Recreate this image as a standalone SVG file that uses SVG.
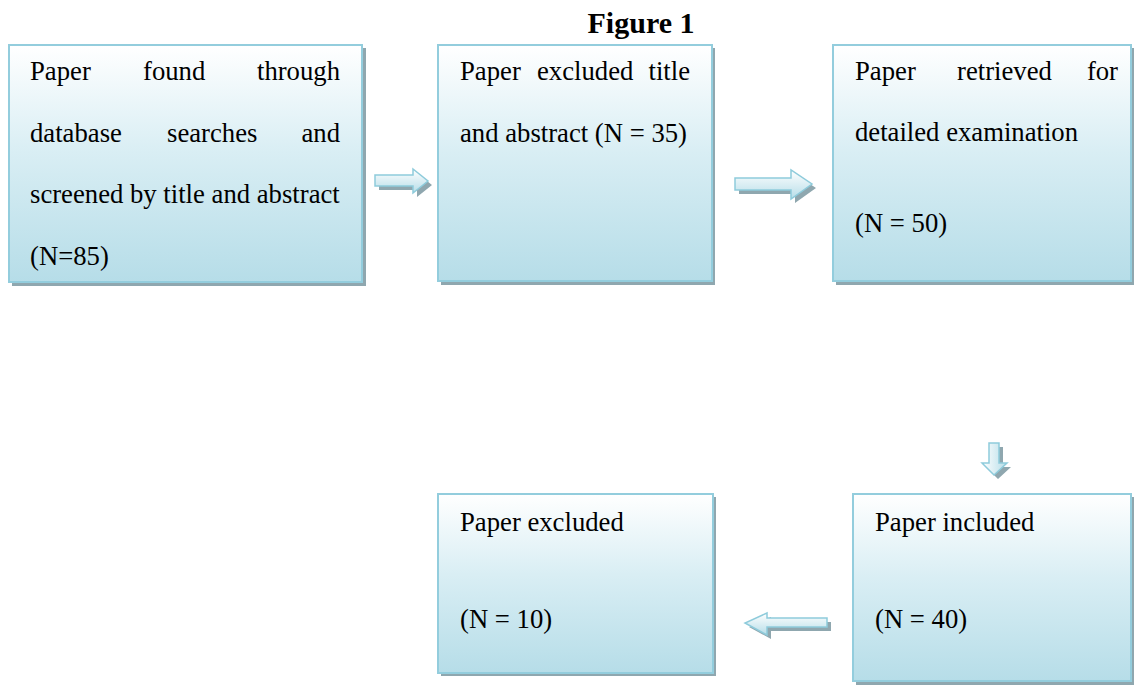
<svg xmlns="http://www.w3.org/2000/svg" width="1134" height="685" viewBox="0 0 1134 685">
<defs>
<linearGradient id="boxg" x1="0" y1="0" x2="0" y2="1">
<stop offset="0" stop-color="#ffffff"/>
<stop offset="0.45" stop-color="#d9eef4"/>
<stop offset="1" stop-color="#b6dde8"/>
</linearGradient>
<linearGradient id="arrh" x1="0" y1="0" x2="0" y2="1">
<stop offset="0" stop-color="#ffffff"/>
<stop offset="1" stop-color="#b6dde8"/>
</linearGradient>
<linearGradient id="arrv" x1="0" y1="0" x2="1" y2="0">
<stop offset="0" stop-color="#ffffff"/>
<stop offset="1" stop-color="#b6dde8"/>
</linearGradient>
</defs>
<style>
.sh{fill:#8fa7af}
.bx{fill:url(#boxg);stroke:#93cddd;stroke-width:2}
.t{font-family:"Liberation Serif","Times New Roman",serif;font-size:26.7px;fill:#000}
.e{text-anchor:end}
.ttl{font-family:"Liberation Serif","Times New Roman",serif;font-size:30px;font-weight:bold;text-anchor:middle}
.ah{fill:url(#arrh);stroke:#8ecbdb;stroke-width:1.5}
.av{fill:url(#arrv);stroke:#8ecbdb;stroke-width:1.5}
.as{fill:#8fa7af}
</style>
<rect width="1134" height="685" fill="#ffffff"/>
<text class="ttl" x="641" y="33">Figure 1</text>

<g id="node1">
<rect class="sh" x="12" y="48" width="354" height="238"/>
<rect class="bx" x="9" y="45" width="353" height="237"/>
<text class="t" x="30" y="80">Paper</text>
<text class="t" x="143" y="80">found</text>
<text class="t e" x="340" y="80">through</text>
<text class="t" x="30" y="142">database</text>
<text class="t" x="167" y="142">searches</text>
<text class="t e" x="340" y="142">and</text>
<text class="t" x="30" y="203">screened by title and abstract</text>
<text class="t" x="30" y="265">(N=85)</text>
</g>

<g id="node2">
<rect class="sh" x="441" y="48" width="274" height="237"/>
<rect class="bx" x="438" y="45" width="274" height="236"/>
<text class="t" x="460" y="80">Paper</text>
<text class="t" x="537" y="80">excluded</text>
<text class="t e" x="690" y="80">title</text>
<text class="t" x="460" y="142">and abstract (N = 35)</text>
</g>

<g id="node3">
<rect class="sh" x="836" y="48" width="298" height="237"/>
<rect class="bx" x="833" y="45" width="298" height="236"/>
<text class="t" x="855" y="80">Paper</text>
<text class="t" x="957" y="80">retrieved</text>
<text class="t e" x="1118" y="80">for</text>
<text class="t" x="855" y="141">detailed examination</text>
<text class="t" x="855" y="232">(N = 50)</text>
</g>

<g id="node4">
<rect class="sh" x="856" y="497" width="278" height="188"/>
<rect class="bx" x="853" y="494" width="278" height="187"/>
<text class="t" x="875" y="531">Paper included</text>
<text class="t" x="875" y="628">(N = 40)</text>
</g>

<g id="node5">
<rect class="sh" x="441" y="497" width="275" height="179"/>
<rect class="bx" x="438" y="494" width="275" height="179"/>
<text class="t" x="460" y="531">Paper excluded</text>
<text class="t" x="460" y="628">(N = 10)</text>
</g>

<g id="connectors">
<path class="as" d="M379 179 H417 V173 L432 185 L417 197 V190 H379 Z"/>
<path class="ah" d="M375 175 H413 V169 L428 181 L413 193 V186 H375 Z"/>
<path class="as" d="M739 182 H795 V174 L816 188 L795 203 V194 H739 Z"/>
<path class="ah" d="M735 178 H791 V170 L812 184 L791 199 V190 H735 Z"/>
<path class="as" d="M993 447 H1003 V467 H1011 L998 479 L986 467 H993 Z"/>
<path class="av" d="M989 443 H999 V463 H1007 L994 475 L982 463 H989 Z"/>
<path class="as" d="M831 622 H771 V617 L749 627 L771 639 V631 H831 Z"/>
<path class="ah" d="M827 618 H767 V613 L745 623 L767 635 V627 H827 Z"/>
</g>
</svg>
